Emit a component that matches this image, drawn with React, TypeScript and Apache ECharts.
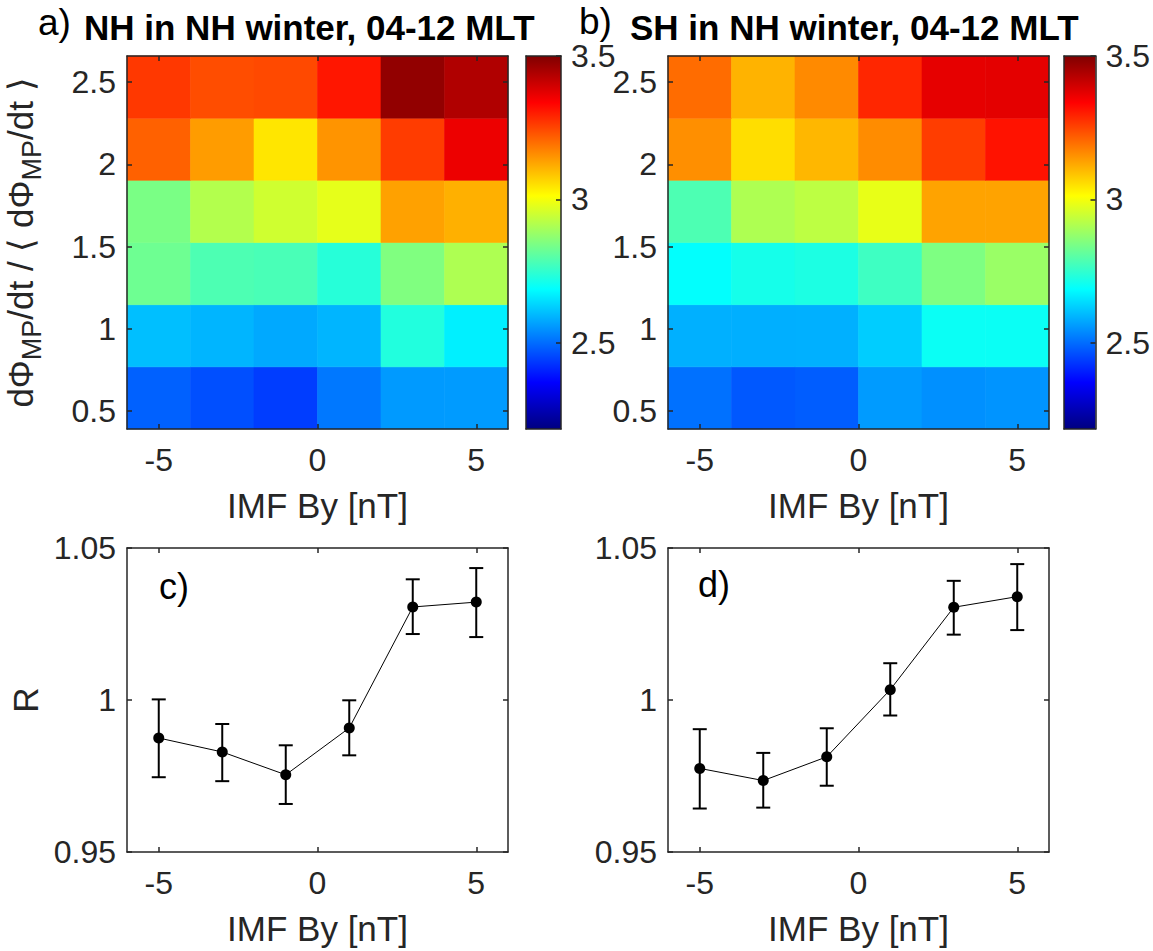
import React, { useEffect, useRef } from 'react';
import * as echarts from 'echarts';

// ---------- data ----------
const byBins = [-5, -3, -1, 1, 3, 5];
const rateBins = [0.58, 0.958, 1.336, 1.714, 2.092, 2.47];

// rows: rateBins (bottom -> top), columns: byBins
const nhMap = [
  [2.486, 2.463, 2.440, 2.515, 2.558, 2.560],
  [2.606, 2.593, 2.577, 2.593, 2.730, 2.668],
  [2.827, 2.785, 2.780, 2.736, 2.850, 2.909],
  [2.843, 2.915, 2.951, 2.980, 3.133, 3.113],
  [3.214, 3.139, 3.045, 3.149, 3.261, 3.360],
  [3.266, 3.240, 3.245, 3.310, 3.477, 3.438],
];
const shMap = [
  [2.506, 2.474, 2.480, 2.560, 2.546, 2.550],
  [2.587, 2.585, 2.587, 2.623, 2.700, 2.700],
  [2.690, 2.714, 2.723, 2.766, 2.847, 2.883],
  [2.785, 2.909, 2.928, 2.983, 3.130, 3.130],
  [3.156, 3.055, 3.104, 3.160, 3.260, 3.315],
  [3.201, 3.110, 3.162, 3.289, 3.370, 3.372],
];

const rNH = [0.9875, 0.9829, 0.9754, 0.9908, 1.0306, 1.0322];
const rNHLow = [0.9746, 0.9733, 0.9658, 0.9818, 1.0217, 1.0207];
const rNHHigh = [1.0002, 0.9921, 0.9851, 0.9999, 1.0397, 1.0434];
const rSH = [0.9775, 0.9735, 0.9813, 1.0034, 1.0305, 1.034];
const rSHLow = [0.9643, 0.9646, 0.9718, 0.9949, 1.0215, 1.023];
const rSHHigh = [0.9904, 0.9826, 0.9907, 1.0121, 1.0392, 1.0447];

const colorMin = 2.2;
const colorMax = 3.5;
const xTicks = [-5, 0, 5];
const mapYTicks = [0.5, 1, 1.5, 2, 2.5];
const rYTicks = [0.95, 1, 1.05];
const cbarTicks = [2.5, 3, 3.5];
const xRange = [-6, 6];
const rRange = [0.95, 1.05];

const panelTags = ['a)', 'b)', 'c)', 'd)'];
const titleA = 'NH in NH winter, 04-12 MLT';
const titleB = 'SH in NH winter, 04-12 MLT';
const xName = 'IMF By [nT]';

// MATLAB jet, evenly spaced breakpoints
const jet = ['#000080', '#0000ff', '#0080ff', '#00ffff', '#80ff80', '#ffff00', '#ff8000', '#ff0000', '#800000'];

// ---------- styling ----------
const FONT = '"Liberation Sans", Arial, Helvetica, sans-serif';
const AX = '#262626';
const TICK_FS = 32;
const LABEL_FS = 35;

const G = [
  { left: 127, top: 56, width: 381, height: 373 }, // a
  { left: 668, top: 56, width: 381, height: 373 }, // b
  { left: 127, top: 548, width: 381, height: 304 }, // c
  { left: 668, top: 548, width: 381, height: 304 }, // d
  { left: 526, top: 56, width: 35, height: 373 }, // colorbar a
  { left: 1064, top: 56, width: 35, height: 373 }, // colorbar b
];

const halfX = (byBins[1] - byBins[0]) / 2;
const halfY = (rateBins[1] - rateBins[0]) / 2;
const mapYRange = [rateBins[0] - halfY, rateBins[rateBins.length - 1] + halfY];

const heatData = (m: number[][]) => {
  const out: number[][] = [];
  m.forEach((row, i) => row.forEach((v, j) => out.push([byBins[j], rateBins[i], v])));
  return out;
};

const fmt = (v: number) => String(Math.round(v * 1000) / 1000);

const lineStyle = { color: AX, width: 1.5 };

function xPair(g: number, opts: { min: number; max: number; ticks: number[] | null; name?: string }) {
  const tickOn = !!opts.ticks;
  const bottom: any = {
    type: 'value', gridIndex: g, position: 'bottom', min: opts.min, max: opts.max, z: 10,
    axisLine: { show: true, onZero: false, lineStyle },
    axisTick: tickOn ? { show: true, inside: true, length: 5, customValues: opts.ticks, lineStyle } : { show: false },
    axisLabel: tickOn
      ? { show: true, customValues: opts.ticks, margin: 15, fontSize: TICK_FS, color: AX, fontFamily: FONT, formatter: fmt }
      : { show: false },
    splitLine: { show: false },
  };
  if (opts.name) {
    bottom.name = opts.name;
    bottom.nameLocation = 'middle';
    bottom.nameGap = 59;
    bottom.nameTextStyle = { fontSize: LABEL_FS, color: AX, fontFamily: FONT };
  }
  const top: any = {
    type: 'value', gridIndex: g, position: 'top', min: opts.min, max: opts.max, z: 10,
    axisLine: { show: true, onZero: false, lineStyle },
    axisTick: tickOn ? { show: true, inside: true, length: 5, customValues: opts.ticks, lineStyle } : { show: false },
    axisLabel: { show: false },
    splitLine: { show: false },
  };
  return [bottom, top];
}

function yPair(
  g: number,
  opts: { min: number; max: number; ticks: number[]; leftLabels: boolean; rightLabels: boolean; leftTicks: boolean; name?: string; rich?: any; nameGap?: number }
) {
  const mk = (pos: 'left' | 'right', labels: boolean, ticks: boolean) => ({
    type: 'value', gridIndex: g, position: pos, min: opts.min, max: opts.max, z: 10,
    axisLine: { show: true, onZero: false, lineStyle },
    axisTick: ticks ? { show: true, inside: true, length: 5, customValues: opts.ticks, lineStyle } : { show: false },
    axisLabel: labels
      ? { show: true, customValues: opts.ticks, margin: pos === 'left' ? 11 : 10, fontSize: TICK_FS, color: AX, fontFamily: FONT, formatter: fmt }
      : { show: false },
    splitLine: { show: false },
  });
  const left: any = mk('left', opts.leftLabels, opts.leftTicks);
  const right: any = mk('right', opts.rightLabels, true);
  if (opts.name) {
    left.name = opts.name;
    left.nameLocation = 'middle';
    left.nameRotate = 90;
    left.nameGap = opts.nameGap ?? 78;
    left.nameTextStyle = { fontSize: LABEL_FS, color: AX, fontFamily: FONT, rich: opts.rich };
  }
  return [left, right];
}

const renderCell = (params: any, api: any) => {
  const x = api.value(0);
  const y = api.value(1);
  const p1 = api.coord([x - halfX, y + halfY]);
  const p2 = api.coord([x + halfX, y - halfY]);
  const c = api.visual('color');
  return {
    type: 'rect',
    shape: { x: p1[0], y: p1[1], width: p2[0] - p1[0], height: p2[1] - p1[1] },
    style: { fill: c, stroke: c, lineWidth: 0.6 },
  };
};

const renderErr = (params: any, api: any) => {
  const x = api.value(0);
  const lo = api.coord([x, api.value(1)]);
  const hi = api.coord([x, api.value(2)]);
  const cap = 7;
  const st = { stroke: '#000', lineWidth: 2 };
  return {
    type: 'group',
    children: [
      { type: 'line', shape: { x1: lo[0], y1: lo[1], x2: hi[0], y2: hi[1] }, style: st },
      { type: 'line', shape: { x1: lo[0] - cap, y1: lo[1], x2: lo[0] + cap, y2: lo[1] }, style: st },
      { type: 'line', shape: { x1: hi[0] - cap, y1: hi[1], x2: hi[0] + cap, y2: hi[1] }, style: st },
    ],
  };
};

const renderBar = (params: any, api: any) => {
  const p1 = api.coord([0, api.value(2)]);
  const p2 = api.coord([1, api.value(1)]);
  const stops = jet.map((c, i) => ({ offset: 1 - i / (jet.length - 1), color: c })).reverse();
  return {
    type: 'rect',
    shape: { x: p1[0], y: p1[1], width: p2[0] - p1[0], height: p2[1] - p1[1] },
    style: { fill: new echarts.graphic.LinearGradient(0, 0, 0, 1, stops) },
  };
};

const yMapName = 'd\u03A6{sub|MP}/dt / \u27E8 d\u03A6{sub|MP}/dt \u27E9';
const subRich = { sub: { fontSize: 27, fontFamily: FONT, color: AX, padding: [22, 0, 0, 0] } };

export default function App() {
  const ref = useRef<HTMLDivElement>(null);
  useEffect(() => {
    if (!ref.current) return;
    const chart = echarts.init(ref.current, undefined, { renderer: 'svg' });

    const xAxis = [
      ...xPair(0, { min: xRange[0], max: xRange[1], ticks: xTicks, name: xName }),
      ...xPair(1, { min: xRange[0], max: xRange[1], ticks: xTicks, name: xName }),
      ...xPair(2, { min: xRange[0], max: xRange[1], ticks: xTicks, name: xName }),
      ...xPair(3, { min: xRange[0], max: xRange[1], ticks: xTicks, name: xName }),
      ...xPair(4, { min: 0, max: 1, ticks: null }),
      ...xPair(5, { min: 0, max: 1, ticks: null }),
    ];
    const yAxis = [
      ...yPair(0, { min: mapYRange[0], max: mapYRange[1], ticks: mapYTicks, leftLabels: true, rightLabels: false, leftTicks: true, name: yMapName, rich: subRich, nameGap: 82 }),
      ...yPair(1, { min: mapYRange[0], max: mapYRange[1], ticks: mapYTicks, leftLabels: true, rightLabels: false, leftTicks: true }),
      ...yPair(2, { min: rRange[0], max: rRange[1], ticks: rYTicks, leftLabels: true, rightLabels: false, leftTicks: true, name: 'R', nameGap: 84 }),
      ...yPair(3, { min: rRange[0], max: rRange[1], ticks: rYTicks, leftLabels: true, rightLabels: false, leftTicks: true }),
      ...yPair(4, { min: colorMin, max: colorMax, ticks: cbarTicks, leftLabels: false, rightLabels: true, leftTicks: false }),
      ...yPair(5, { min: colorMin, max: colorMax, ticks: cbarTicks, leftLabels: false, rightLabels: true, leftTicks: false }),
    ];

    const tagStyle = (t: string) => ({ text: t, fontSize: 37, fontFamily: FONT, fill: '#000' });
    const boldStyle = (t: string) => ({ text: t, fontSize: 35, fontWeight: 'bold', fontFamily: FONT, fill: '#000' });

    const option: any = {
      animation: false,
      backgroundColor: '#ffffff',
      grid: G.map((g) => ({ ...g, containLabel: false })),
      xAxis,
      yAxis,
      visualMap: [
        { type: 'continuous', show: false, min: colorMin, max: colorMax, dimension: 2, seriesIndex: [0, 1], inRange: { color: jet } },
      ],
      series: [
        { type: 'custom', name: 'NH map', xAxisIndex: 0, yAxisIndex: 0, data: heatData(nhMap), renderItem: renderCell, encode: { x: 0, y: 1 }, z: 1 },
        { type: 'custom', name: 'SH map', xAxisIndex: 2, yAxisIndex: 2, data: heatData(shMap), renderItem: renderCell, encode: { x: 0, y: 1 }, z: 1 },
        {
          type: 'custom', name: 'NH err', xAxisIndex: 4, yAxisIndex: 4,
          data: byBins.map((b, i) => [b, rNHLow[i], rNHHigh[i]]), renderItem: renderErr, encode: { x: 0, y: [1, 2] }, z: 2,
        },
        {
          type: 'line', name: 'NH R', xAxisIndex: 4, yAxisIndex: 4, data: byBins.map((b, i) => [b, rNH[i]]),
          symbol: 'circle', symbolSize: 11, showSymbol: true, itemStyle: { color: '#000' }, lineStyle: { color: '#000', width: 1 }, z: 3,
        },
        {
          type: 'custom', name: 'SH err', xAxisIndex: 6, yAxisIndex: 6,
          data: byBins.map((b, i) => [b, rSHLow[i], rSHHigh[i]]), renderItem: renderErr, encode: { x: 0, y: [1, 2] }, z: 2,
        },
        {
          type: 'line', name: 'SH R', xAxisIndex: 6, yAxisIndex: 6, data: byBins.map((b, i) => [b, rSH[i]]),
          symbol: 'circle', symbolSize: 11, showSymbol: true, itemStyle: { color: '#000' }, lineStyle: { color: '#000', width: 1 }, z: 3,
        },
        { type: 'custom', name: 'cbar a', xAxisIndex: 8, yAxisIndex: 9, data: [[0, colorMin, colorMax]], renderItem: renderBar, encode: { x: 0, y: [1, 2] }, z: 1 },
        { type: 'custom', name: 'cbar b', xAxisIndex: 10, yAxisIndex: 11, data: [[0, colorMin, colorMax]], renderItem: renderBar, encode: { x: 0, y: [1, 2] }, z: 1 },
      ],
      graphic: [
        { type: 'text', left: 38, top: 4, style: tagStyle(panelTags[0]) },
        { type: 'text', left: 84, top: 10, style: boldStyle(titleA) },
        { type: 'text', left: 579, top: 3, style: tagStyle(panelTags[1]) },
        { type: 'text', left: 630, top: 10, style: boldStyle(titleB) },
        { type: 'text', left: 159, top: 568, style: { text: panelTags[2], fontSize: 36, fontFamily: FONT, fill: '#000' } },
        { type: 'text', left: 698, top: 566, style: { text: panelTags[3], fontSize: 36, fontFamily: FONT, fill: '#000' } },
      ],
    };
    chart.setOption(option);
    return () => chart.dispose();
  }, []);
  return <div ref={ref} style={{ position: 'absolute', left: 0, top: 0, width: 1153, height: 951 }} />;
}
